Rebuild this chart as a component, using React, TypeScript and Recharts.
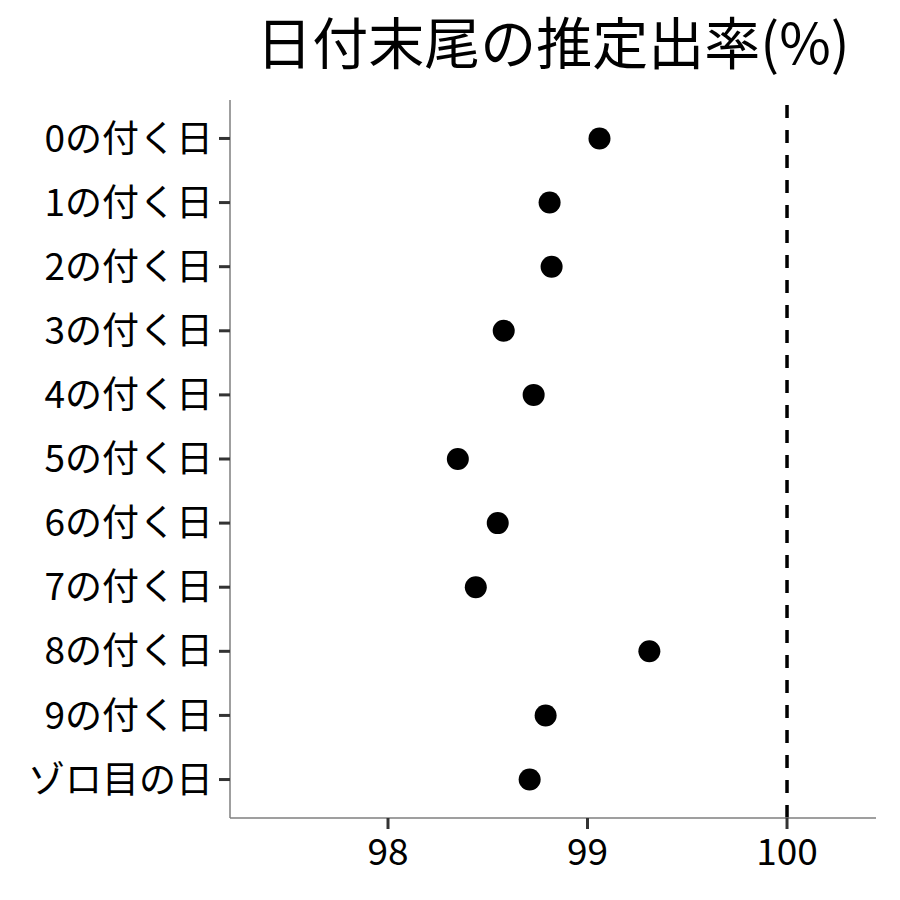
import React from 'react';
import { ScatterChart, Scatter, XAxis, YAxis, ReferenceLine } from 'recharts';

const categories = [
  '0の付く日', '1の付く日', '2の付く日', '3の付く日', '4の付く日', '5の付く日',
  '6の付く日', '7の付く日', '8の付く日', '9の付く日', 'ゾロ目の日',
];
const rates = [99.06, 98.81, 98.82, 98.58, 98.73, 98.35, 98.55, 98.44, 99.31, 98.79, 98.71];
const xTicks = [98, 99, 100];

const data = categories.map((name, i) => ({ idx: i, name, rate: rates[i] }));

const FONT = '"Noto Sans CJK JP", "Noto Sans", sans-serif';

export default function App() {
  return (
    <div style={{ position: 'absolute', left: 0, top: 0, width: 900, height: 900, background: '#fff', fontFamily: FONT }}>
      <div
        style={{
          position: 'absolute', left: 230, width: 646, top: 0, textAlign: 'center',
          fontSize: 56, lineHeight: '80px', color: '#000', whiteSpace: 'nowrap',
        }}
      >
        日付末尾の推定出率(%)
      </div>
      <ScatterChart width={900} height={900} margin={{ top: 100, right: 24, bottom: 0, left: 0 }}>
        <XAxis
          type="number"
          dataKey="rate"
          domain={[97.208, 100.446]}
          ticks={xTicks}
          allowDataOverflow
          height={82}
          axisLine={{ stroke: '#7f7f7f', strokeWidth: 1.5 }}
          tickLine={{ stroke: '#333', strokeWidth: 3 }}
          tickSize={11}
          tickMargin={10}
          tick={{ fill: '#000', fontSize: 37, fontFamily: FONT }}
        />
        <YAxis
          type="number"
          dataKey="idx"
          reversed
          domain={[-0.6, 10.6]}
          ticks={categories.map((_, i) => i)}
          interval={0}
          tickFormatter={(v: number) => categories[v] ?? ''}
          width={230}
          axisLine={{ stroke: '#7f7f7f', strokeWidth: 1.5 }}
          tickLine={{ stroke: '#333', strokeWidth: 3 }}
          tickSize={11}
          tickMargin={6}
          tick={{ fill: '#000', fontSize: 37, fontFamily: FONT }}
        />
        <ReferenceLine x={100} stroke="#000" strokeWidth={3.5} strokeDasharray="13 12" />
        <Scatter
          data={data}
          fill="#000"
          isAnimationActive={false}
          shape={(p: any) => <circle cx={p.cx} cy={p.cy} r={11} fill="#000" />}
        />
      </ScatterChart>
    </div>
  );
}
